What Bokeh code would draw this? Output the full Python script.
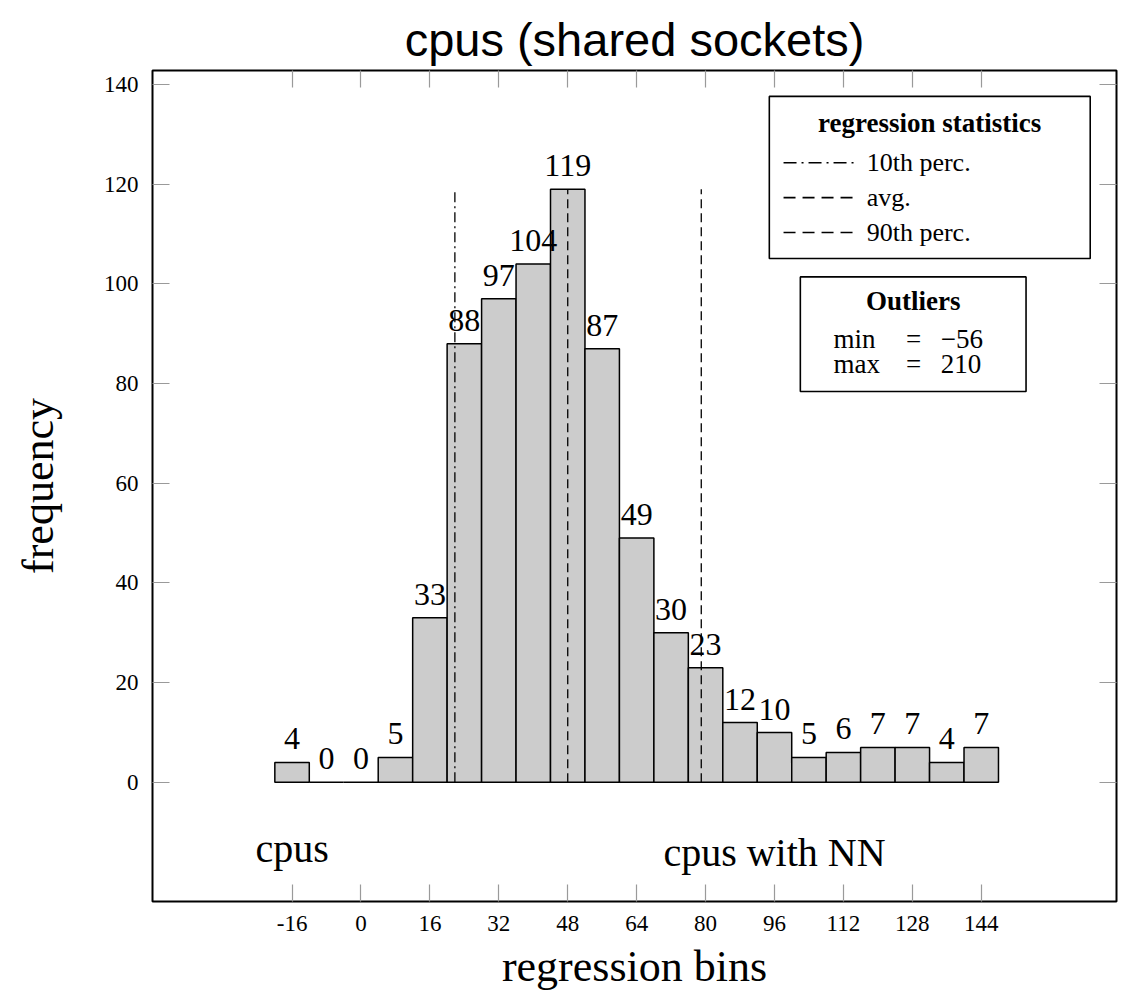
from bokeh.plotting import figure
from bokeh.models import (Range1d, FixedTicker, LinearAxis, ColumnDataSource,
                          LabelSet, Label)
from bokeh.embed import file_html
from bokeh.resources import INLINE

# ---- data ----
bin_centers = [-16, -8, 0, 8, 16, 24, 32, 40, 48, 56, 64, 72, 80, 88, 96, 104, 112, 120, 128, 136, 144]
counts = [4, 0, 0, 5, 33, 88, 97, 104, 119, 87, 49, 30, 23, 12, 10, 5, 6, 7, 7, 4, 7]
bin_width = 8
x_ticks = [-16, 0, 16, 32, 48, 64, 80, 96, 112, 128, 144]
y_ticks = [0, 20, 40, 60, 80, 100, 120, 140]
stat_names = ["10th perc.", "avg.", "90th perc."]
stat_values = [21.8, 48, 79]
stat_top = 119
outlier_min = -56
outlier_max = 210

SERIF = "Liberation Serif"
TICK_GRAY = "#9a9a9a"

p = figure(width=1126, height=996, output_backend="svg", toolbar_location=None,
           x_range=Range1d(-48.4, 175.4), y_range=Range1d(-23.9, 142.8),
           min_border_left=152, min_border_right=10, min_border_top=70, min_border_bottom=95,
           title="cpus (shared sockets)")
p.title.text_font = "Liberation Sans"
p.title.text_font_size = "47px"
p.title.text_font_style = "normal"
p.title.align = "center"
p.title.text_color = "black"

p.grid.visible = False
p.outline_line_color = "black"
p.outline_line_width = 2
p.background_fill_color = "white"
p.border_fill_color = "white"

def style_axis(ax, ticks, show_labels=True):
    ax.ticker = FixedTicker(ticks=ticks)
    ax.axis_line_color = None
    ax.major_tick_in = 17
    ax.major_tick_out = 0
    ax.major_tick_line_color = TICK_GRAY
    ax.major_tick_line_width = 1.2
    ax.minor_tick_line_color = None
    if show_labels:
        ax.major_label_text_font = SERIF
        ax.major_label_text_font_size = "23px"
        ax.major_label_text_color = "black"
        ax.major_label_standoff = 14
        ax.major_label_overrides = {t: str(t) for t in ticks}
    else:
        ax.major_label_text_font_size = "0px"
        ax.major_label_standoff = 0
        ax.major_label_overrides = {t: "" for t in ticks}

style_axis(p.xaxis[0], x_ticks)
style_axis(p.yaxis[0], y_ticks)
p.xaxis[0].axis_label = "regression bins"
p.yaxis[0].axis_label = "frequency"
for ax in (p.xaxis[0], p.yaxis[0]):
    ax.axis_label_text_font = SERIF
    ax.axis_label_text_font_size = "44px"
    ax.axis_label_text_font_style = "normal"
    ax.axis_label_text_color = "black"
p.xaxis[0].axis_label_standoff = 8
p.yaxis[0].axis_label_standoff = 38

right_ax = LinearAxis()
style_axis(right_ax, y_ticks, show_labels=False)
p.add_layout(right_ax, "right")
top_ax = LinearAxis()
style_axis(top_ax, x_ticks, show_labels=False)
p.add_layout(top_ax, "above")

# ---- bars ----
src = ColumnDataSource(dict(x=bin_centers, top=counts, lab=[str(c) for c in counts]))
p.vbar(x="x", top="top", bottom=0, width=bin_width, source=src,
       fill_color="#cccccc", line_color="black", line_width=1.5)
p.add_layout(LabelSet(x="x", y="top", text="lab", source=src, text_align="center",
                      text_baseline="alphabetic", y_offset=13, text_font=SERIF,
                      text_font_size="32px", text_color="black"))

# ---- statistic lines ----
dashes = ["10 4 2 4", "9 5", "9 5"]
for v, d in zip(stat_values, dashes):
    p.line(x=[v, v], y=[0, stat_top], line_color="black", line_width=1.3, line_dash=d)

# ---- legend box (regression statistics) ----
leg_dashes = ["13 5 2 5", "12 7", "12 7"]
p.quad(left=[94.8], right=[169.3], bottom=[105.1], top=[137.6],
       fill_color="white", line_color="black", line_width=1.6)
p.add_layout(Label(x=132.0, y=132.2, text="regression statistics", text_align="center",
                   text_baseline="middle", text_font=SERIF, text_font_style="bold",
                   text_font_size="27px", text_color="black"))
leg_y = [124.3, 117.3, 110.3]
for name, d, yy in zip(stat_names, leg_dashes, leg_y):
    p.line(x=[98.1, 114.8], y=[yy, yy], line_color="black", line_width=1.6, line_dash=d)
    p.add_layout(Label(x=117.4, y=yy, text=name, text_align="left", text_baseline="middle",
                       text_font=SERIF, text_font_size="26px", text_color="black"))

# ---- outliers box ----
p.quad(left=[102.0], right=[154.4], bottom=[78.4], top=[101.4],
       fill_color="white", line_color="black", line_width=1.6)
p.add_layout(Label(x=128.2, y=96.6, text="Outliers", text_align="center",
                   text_baseline="middle", text_font=SERIF, text_font_style="bold",
                   text_font_size="27px", text_color="black"))
for nm, val, yy in [("min", outlier_min, 89.0), ("max", outlier_max, 84.0)]:
    p.add_layout(Label(x=109.7, y=yy, text=nm, text_align="left", text_baseline="middle",
                       text_font=SERIF, text_font_size="27px", text_color="black"))
    p.add_layout(Label(x=128.3, y=yy, text="=", text_align="center", text_baseline="middle",
                       text_font=SERIF, text_font_size="27px", text_color="black"))
    vs = ("\u2212" + str(-val)) if val < 0 else str(val)
    p.add_layout(Label(x=134.6, y=yy, text=vs, text_align="left", text_baseline="middle",
                       text_font=SERIF, text_font_size="27px", text_color="black"))

# ---- group labels ----
p.add_layout(Label(x=-16, y=-13.3, text="cpus", text_align="center", text_baseline="alphabetic",
                   text_font=SERIF, text_font_size="40px", text_color="black"))
p.add_layout(Label(x=96, y=-14.0, text="cpus with NN", text_align="center",
                   text_baseline="alphabetic", text_font=SERIF, text_font_size="40px",
                   text_color="black"))

open("out.html", "w").write(file_html(p, INLINE))
